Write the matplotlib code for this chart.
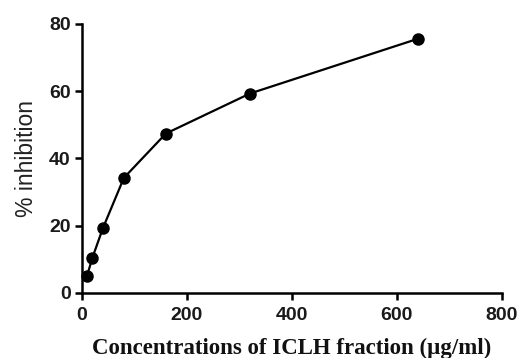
import matplotlib
matplotlib.use("Agg")
import matplotlib.pyplot as plt

# concentrations (µg/ml) and measured inhibition (%)
concentrations = [10, 20, 40, 80, 160, 320, 640]
inhibition = [5.1, 10.4, 19.2, 34.2, 47.4, 59.3, 75.6]

x_ticks = [0, 200, 400, 600, 800]
y_ticks = [0, 20, 40, 60, 80]


def main():
    fig = plt.figure(figsize=(5.18, 3.58), dpi=100)
    ax = fig.add_axes([0.158, 0.182, 0.811, 0.751])

    ax.plot(concentrations, inhibition, color="black", linewidth=1.6,
            marker="o", markersize=8, clip_on=False)

    ax.set_xlim(0, 800)
    ax.set_ylim(0, 80)
    ax.set_xticks(x_ticks)
    ax.set_yticks(y_ticks)

    for side in ("top", "right"):
        ax.spines[side].set_visible(False)
    for side in ("left", "bottom"):
        ax.spines[side].set_linewidth(1.8)

    ax.tick_params(direction="out", length=5, width=1.8)
    ax.tick_params(axis="x", pad=5)
    ax.tick_params(axis="y", pad=3)
    for lab in ax.get_xticklabels() + ax.get_yticklabels():
        lab.set_fontfamily("Liberation Sans")
        lab.set_fontweight("bold")
        lab.set_fontsize(14)
        lab.set_color("#1a1a1a")

    ax.set_ylabel("% inhibition", fontfamily="Liberation Sans",
                  fontsize=16.5, color="#222222")
    ax.yaxis.set_label_coords(-0.105, 0.5)
    ax.set_xlabel("Concentrations of ICLH fraction (µg/ml)",
                  fontfamily="Liberation Serif", fontweight="bold",
                  fontsize=16.5, color="#111111")
    ax.xaxis.set_label_coords(0.5, -0.168)

    fig.savefig("out.png", dpi=100)


if __name__ == "__main__":
    main()
